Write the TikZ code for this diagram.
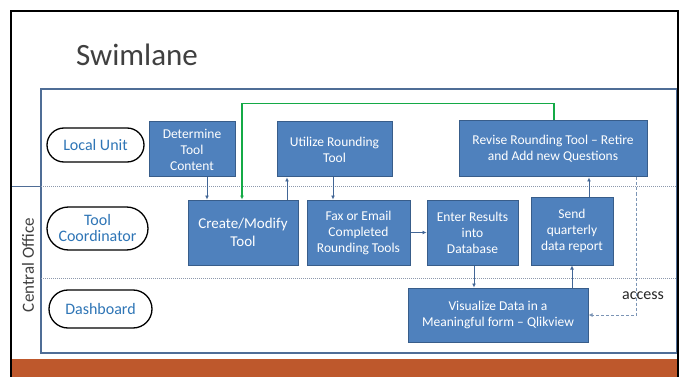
\documentclass[tikz,border=0pt]{standalone}
\usepackage{fontspec}
\setmainfont{Carlito}
\usetikzlibrary{arrows.meta,shapes.misc}
\definecolor{boxfill}{RGB}{79,129,189}
\definecolor{boxedge}{RGB}{56,93,138}
\definecolor{arrowblue}{RGB}{66,102,150}
\definecolor{lanetext}{RGB}{46,117,182}
\definecolor{orangebar}{RGB}{190,88,44}
\definecolor{greenline}{RGB}{20,170,70}
\definecolor{titlegray}{RGB}{64,64,64}
\definecolor{frameblue}{RGB}{79,109,150}
\definecolor{lanedot}{RGB}{140,152,172}
\tikzset{
  procbox/.style={draw=boxedge, line width=1pt, fill=boxfill, text=white, align=center,
    font=\fontsize{13.5}{16}\selectfont, inner sep=0pt},
  lanelbl/.style={draw=black, line width=1.3pt, rounded rectangle, fill=white, text=lanetext,
    align=center, font=\fontsize{16}{17}\selectfont, inner sep=0pt},
  arr/.style={draw=arrowblue, line width=1pt, -{Latex[length=4pt,width=4pt]}},
  greenarr/.style={draw=greenline, line width=1.6pt, -{Latex[length=4pt,width=4pt]}},
  dasharr/.style={draw=arrowblue!70, line width=0.8pt, dash pattern=on 3pt off 2pt, -{Latex[length=4pt,width=4pt]}},
  laneline/.style={draw=lanedot, line width=1pt, dash pattern=on 1pt off 1pt},
}
\begin{document}
\begin{tikzpicture}[x=1pt,y=-1pt]
\useasboundingbox (0,0) rectangle (683,377);
\fill[white] (0,0) rectangle (683,377);
% orange bar
\fill[orangebar] (12,359) rectangle (677,377);
% diagram area
\draw[frameblue, line width=1.6pt] (41,89) rectangle (677,353);
\draw[frameblue, line width=1pt] (12,187) -- (41,187);
% lane dividers
\draw[laneline] (41,187) -- (677,187);
\draw[laneline] (41,278) -- (677,278);
% black frame
\draw[black, line width=2pt] (11,377) -- (11,11) -- (678,11) -- (678,377);
% title
\node[anchor=west, text=titlegray, font=\fontsize{31}{36}\selectfont, inner sep=0pt] (title) at (76,55) {Swimlane};
% central office
\node[rotate=90, text=titlegray, font=\fontsize{17}{19}\selectfont, inner sep=0pt] (central) at (28,265) {Central Office};
% lane labels
\node[lanelbl, minimum width=97pt, minimum height=34pt] (local) at (95.5,145) {Local Unit};
\node[lanelbl, minimum width=101pt, minimum height=43pt] (coord) at (97.5,228.5) {Tool\\[-1pt]Coordinator};
\node[lanelbl, minimum width=103pt, minimum height=38pt] (dash) at (100.5,309) {Dashboard};
% boxes
\node[procbox, minimum width=86pt, minimum height=55pt] (det) at (192,149.5) {Determine\\Tool\\Content};
\node[procbox, minimum width=115pt, minimum height=55pt] (util) at (334.5,149.5) {Utilize Rounding\\Tool};
\node[procbox, minimum width=188pt, minimum height=56pt] (rev) at (553,149) {Revise Rounding Tool -- Retire\\and Add new Questions};
\node[procbox, minimum width=110pt, minimum height=65pt, font=\fontsize{15}{18}\selectfont] (create) at (243,232.5) {Create/Modify\\Tool};
\node[procbox, minimum width=103pt, minimum height=65pt] (fax) at (358.5,232.5) {Fax or Email\\Completed\\Rounding Tools};
\node[procbox, minimum width=91pt, minimum height=65pt] (enter) at (472.5,232.5) {Enter Results\\into\\Database};
\node[procbox, minimum width=82pt, minimum height=68pt] (send) at (572,231) {Send\\quarterly\\data report};
\node[procbox, minimum width=180pt, minimum height=54pt] (vis) at (498,315) {Visualize Data in a\\Meaningful form -- Qlikview};
% access label
\node[text=black!85, font=\fontsize{16}{18}\selectfont, inner sep=0pt] (access) at (643,296) {access};
% connectors
\draw[arr] ([xshift=15pt]det.south) -- ([xshift=-36pt]create.north);
\draw[arr] ([xshift=44pt]create.north) -- ([xshift=-47.5pt]util.south);
\draw[arr] ([xshift=-1.5pt]util.south) -- ([xshift=-25.5pt]fax.north);
\draw[arr] (fax.east) -- (enter.west);
\draw[arr] ([xshift=1.5pt]enter.south) -- ([xshift=-24pt]vis.north);
\draw[arr] ([xshift=74pt]vis.north) -- (send.south);
\draw[arr] ([xshift=17pt]send.north) -- ([xshift=36pt]rev.south);
\draw[greenarr] ([xshift=1pt]rev.north) -- ++(0,-17) -| ([xshift=-1pt]create.north);
\draw[dasharr] ([xshift=83pt]rev.south) |- (vis.east);
\end{tikzpicture}
\end{document}
